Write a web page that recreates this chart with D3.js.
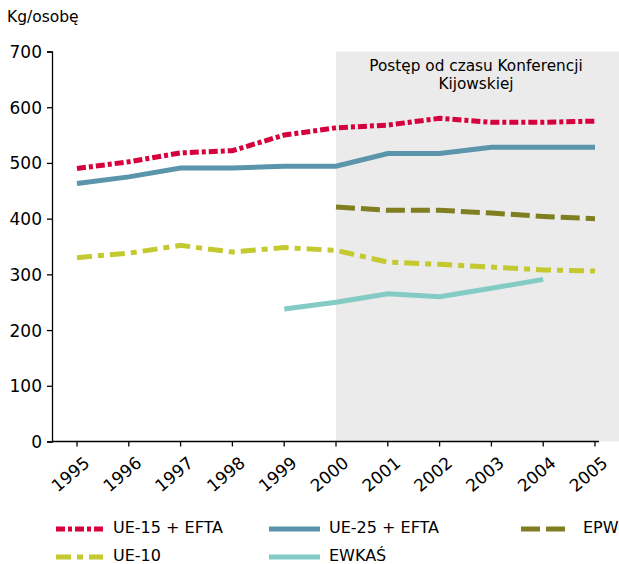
<!DOCTYPE html>
<html>
<head>
<meta charset="utf-8">
<script src="https://cdn.jsdelivr.net/npm/d3@7"></script>
<style>
  body { margin: 0; background: #fff; }
  svg text { font-family: "DejaVu Sans", Verdana, sans-serif; fill: #000; }
</style>
</head>
<body>
<div id="chart"></div>
<script>
// data
const years = [1995, 1996, 1997, 1998, 1999, 2000, 2001, 2002, 2003, 2004, 2005];
const ue15 = [490, 502, 518, 522, 550, 563, 568, 580, 573, 573, 575];
const ue25 = [463, 475, 491, 491, 494, 494, 517, 517, 528, 528, 528];
const epwYears = [2000, 2001, 2002, 2003, 2004, 2005];
const epw = [421, 415, 415, 410, 404, 400];
const ue10 = [330, 338, 352, 340, 348, 343, 322, 318, 313, 308, 306];
const ewkasYears = [1999, 2000, 2001, 2002, 2003, 2004];
const ewkas = [238, 250, 265, 260, 275, 291];
const yTicks = [0, 100, 200, 300, 400, 500, 600, 700];

const width = 619, height = 564;

const svg = d3.select("#chart").append("svg")
  .attr("width", width).attr("height", height);

const x = d3.scaleLinear().domain([1995, 2005]).range([77, 595]);
const y = d3.scaleLinear().domain([0, 700]).range([441.5, 51.5]);
const axisX = 52;

// shaded period since Kyiv conference
svg.append("rect")
  .attr("x", x(2000)).attr("y", y(700))
  .attr("width", width - x(2000)).attr("height", y(0) - y(700))
  .attr("fill", "#ebebeb");

svg.append("text").attr("x", 476).attr("y", 71)
  .attr("text-anchor", "middle").style("font-size", "15.3px")
  .text("Postęp od czasu Konferencji");
svg.append("text").attr("x", 476).attr("y", 89)
  .attr("text-anchor", "middle").style("font-size", "15.3px")
  .text("Kijowskiej");

// y axis
const gy = svg.append("g").attr("transform", `translate(${axisX},0)`)
  .call(d3.axisLeft(y).tickValues(yTicks).tickSize(5).tickPadding(5));
gy.select(".domain").attr("stroke", "#000").attr("stroke-width", 1.3);
gy.selectAll(".tick line").attr("stroke", "#000").attr("stroke-width", 1.3);
gy.selectAll("text").style("font-size", "17px").attr("dy", "0.35em");

// x axis (starts at the y axis line)
svg.append("line")
  .attr("x1", axisX).attr("x2", x(2005) + 4)
  .attr("y1", y(0)).attr("y2", y(0))
  .attr("stroke", "#000").attr("stroke-width", 1.3);
const gx = svg.append("g").attr("transform", `translate(0,${y(0)})`);
gx.selectAll("line").data(years).join("line")
  .attr("x1", d => x(d)).attr("x2", d => x(d))
  .attr("y1", 0).attr("y2", 5)
  .attr("stroke", "#000").attr("stroke-width", 1.3);
gx.selectAll("text").data(years).join("text")
  .attr("transform", d => `translate(${x(d) + 6},${14}) rotate(-40)`)
  .attr("text-anchor", "end")
  .attr("dy", "0.72em")
  .style("font-size", "17px")
  .text(d => d);

svg.append("text").attr("x", 7).attr("y", 22)
  .style("font-size", "15.5px").text("Kg/osobę");

const series = [
  { name: "UE-15 + EFTA", xs: years, vals: ue15, color: "#d6003c", dash: "9,3,4,3" },
  { name: "UE-25 + EFTA", xs: years, vals: ue25, color: "#5b95ab", dash: null },
  { name: "EPW", xs: epwYears, vals: epw, color: "#7f7f22", dash: "19,6" },
  { name: "UE-10", xs: years, vals: ue10, color: "#c3c92e", dash: "15,6,6,6" },
  { name: "EWKAŚ", xs: ewkasYears, vals: ewkas, color: "#84cbc5", dash: null }
];

const line = d3.line().x(d => x(d[0])).y(d => y(d[1]));

svg.selectAll("path.series").data(series).join("path")
  .attr("class", "series")
  .attr("d", s => line(s.xs.map((yr, i) => [yr, s.vals[i]])))
  .attr("fill", "none")
  .attr("stroke", s => s.color)
  .attr("stroke-width", 5)
  .attr("stroke-dasharray", s => s.dash);

// legend
const legendPos = [
  { lx: 56, ly: 529, w: 47, tx: 113 },
  { lx: 269, ly: 529, w: 51, tx: 329 },
  { lx: 521, ly: 529, w: 44, tx: 583 },
  { lx: 56, ly: 557, w: 47, tx: 113 },
  { lx: 269, ly: 557, w: 51, tx: 329 }
];
const lg = svg.selectAll("g.legend").data(series).join("g").attr("class", "legend");
lg.append("line")
  .attr("x1", (s, i) => legendPos[i].lx)
  .attr("x2", (s, i) => legendPos[i].lx + legendPos[i].w)
  .attr("y1", (s, i) => legendPos[i].ly).attr("y2", (s, i) => legendPos[i].ly)
  .attr("stroke", s => s.color).attr("stroke-width", 5)
  .attr("stroke-dasharray", s => s.dash);
lg.append("text")
  .attr("x", (s, i) => legendPos[i].tx)
  .attr("y", (s, i) => legendPos[i].ly + 4)
  .style("font-size", "16px")
  .text(s => s.name);
</script>
</body>
</html>
